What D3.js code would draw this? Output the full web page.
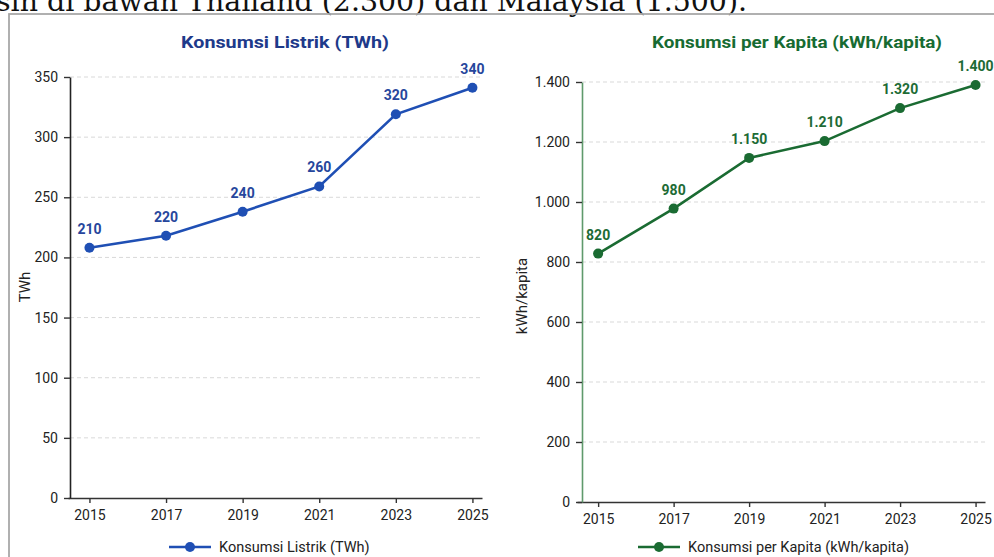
<!DOCTYPE html>
<html>
<head>
<meta charset="utf-8">
<script src="https://cdn.jsdelivr.net/npm/d3@7"></script>
<style>
  body { margin:0; background:#fff; }
  svg { display:block; font-family: Roboto, "Noto Sans", sans-serif; }
</style>
</head>
<body>
<div id="chart"></div>
<script>
// data
var years = [2015, 2017, 2019, 2021, 2023, 2025];
var listrik = [208, 218, 238, 259, 319, 341];          // TWh (plotted)
var listrikLabels = ["210", "220", "240", "260", "320", "340"];
var kapita = [828, 978, 1147, 1203, 1313, 1390];       // kWh/kapita (plotted)
var kapitaLabels = ["820", "980", "1.150", "1.210", "1.320", "1.400"];
var listrikTicks = [0, 50, 100, 150, 200, 250, 300, 350];
var kapitaTicks = [0, 200, 400, 600, 800, 1000, 1200, 1400];

var W = 994, H = 557;
var svg = d3.select("#chart").append("svg")
  .attr("width", W).attr("height", H);

var idLocale = d3.formatLocale({decimal: ",", thousands: ".", grouping: [3], currency: ["", ""]});
var fmt = idLocale.format(",d");

// cut-off sentence above the figure
svg.append("text")
  .attr("x", -4).attr("y", 11)
  .attr("textLength", 751).attr("lengthAdjust", "spacingAndGlyphs")
  .style("font-family", "'DejaVu Serif', 'Liberation Serif', serif")
  .style("font-size", "27px").attr("fill", "#111")
  .text("sih di bawah Thailand (2.300) dan Malaysia (1.500).");

// frame of the figure
svg.append("rect")
  .attr("x", 9).attr("y", 14).attr("width", W).attr("height", H)
  .attr("fill", "none").attr("stroke", "#a8a8a8").attr("stroke-width", 1.8);

function panel(opt) {
  var g = svg.append("g");
  var x = d3.scaleLinear().domain([2014.44, 2025.25]).range(opt.xr);
  var y = d3.scaleLinear().domain([0, opt.ymax]).range(opt.yr);
  var x0 = opt.axisX;

  // grid
  g.append("g").selectAll("line")
    .data(opt.ticks.filter(d => d > 0))
    .enter().append("line")
    .attr("x1", x0).attr("x2", opt.xr[1])
    .attr("y1", d => y(d)).attr("y2", d => y(d))
    .attr("stroke", "#d9d9d9").attr("stroke-dasharray", "4,3");

  // x axis
  var xa = g.append("g")
    .attr("transform", `translate(0,${opt.yr[0]})`)
    .call(d3.axisBottom(x).tickValues(years).tickFormat(d3.format("d"))
      .tickSize(5).tickSizeOuter(0).tickPadding(7));
  xa.select(".domain").attr("stroke", "#333").attr("stroke-width", 1.6);
  xa.selectAll(".tick line").attr("stroke", "#333").attr("stroke-width", 1.4);
  xa.selectAll("text").style("font-size", "14px").attr("fill", "#222")
    .style("font-family", "Roboto, sans-serif");

  // y axis
  var ya = g.append("g")
    .attr("transform", `translate(${x0},0)`)
    .call(d3.axisLeft(y).tickValues(opt.ticks).tickFormat(fmt)
      .tickSize(6).tickSizeOuter(0).tickPadding(6));
  ya.select(".domain").attr("stroke", opt.axisColor).attr("stroke-width", 1.6);
  ya.selectAll(".tick line").attr("stroke", "#333").attr("stroke-width", 1.4);
  ya.selectAll("text").style("font-size", "14px").attr("fill", "#222")
    .style("font-family", "Roboto, sans-serif");

  // y label
  g.append("text")
    .attr("transform", `translate(${opt.ylabX},${opt.ylabY}) rotate(-90)`)
    .attr("text-anchor", "middle")
    .style("font-size", "15px").attr("fill", "#222")
    .text(opt.ylabel);

  // title
  g.append("text")
    .attr("x", opt.titleX).attr("y", 48)
    .attr("text-anchor", "middle")
    .attr("textLength", opt.titleW).attr("lengthAdjust", "spacingAndGlyphs")
    .style("font-size", "17px").style("font-weight", "bold")
    .attr("fill", opt.titleColor)
    .text(opt.title);

  var pts = years.map((yr, i) => ({year: yr, v: opt.values[i], lab: opt.labels[i]}));
  var line = d3.line().x(d => x(d.year)).y(d => y(d.v));

  g.append("path")
    .datum(pts)
    .attr("fill", "none")
    .attr("stroke", opt.color)
    .attr("stroke-width", 2.6)
    .attr("d", line);

  g.selectAll(".dot").data(pts).enter().append("circle")
    .attr("cx", d => x(d.year)).attr("cy", d => y(d.v))
    .attr("r", 5).attr("fill", opt.color);

  g.selectAll(".lab").data(pts).enter().append("text")
    .attr("x", d => x(d.year)).attr("y", d => y(d.v) - 14)
    .attr("text-anchor", "middle")
    .style("font-size", "14px").style("font-weight", "bold")
    .attr("fill", opt.labelColor)
    .text(d => d.lab);

  // legend
  var lg = g.append("g").attr("transform", `translate(${opt.legX},547)`);
  lg.append("line").attr("x1", 0).attr("x2", 42)
    .attr("stroke", opt.color).attr("stroke-width", 2.6);
  lg.append("circle").attr("cx", 21).attr("r", 5).attr("fill", opt.color);
  lg.append("text").attr("x", 50).attr("dy", "0.35em")
    .style("font-size", "14.5px").attr("fill", "#222")
    .text(opt.title);
}

panel({
  xr: [68, 482], yr: [498, 77], ymax: 350, axisX: 70,
  ticks: listrikTicks, values: listrik, labels: listrikLabels,
  color: "#1f4fb4", labelColor: "#26469c", titleColor: "#1e3a8a",
  axisColor: "#222", title: "Konsumsi Listrik (TWh)", titleX: 285, titleW: 208,
  ylabel: "TWh", ylabX: 30, ylabY: 287, legX: 169
});

panel({
  xr: [577, 985], yr: [502, 82], ymax: 1400, axisX: 582,
  ticks: kapitaTicks, values: kapita, labels: kapitaLabels,
  color: "#1a6b32", labelColor: "#1d6b35", titleColor: "#176b32",
  axisColor: "#5f9a6c", title: "Konsumsi per Kapita (kWh/kapita)", titleX: 797, titleW: 290,
  ylabel: "kWh/kapita", ylabX: 527, ylabY: 296, legX: 638
});
</script>
</body>
</html>
